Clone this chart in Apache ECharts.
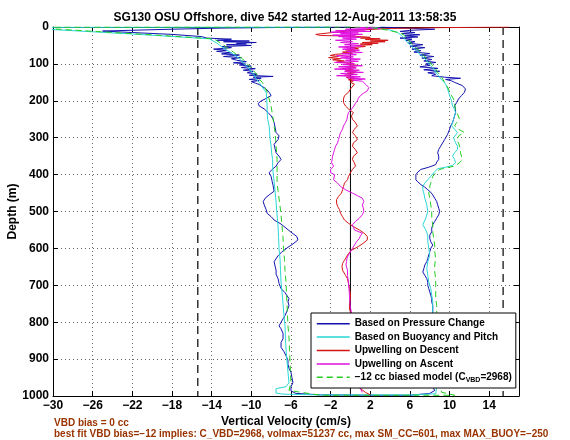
<!DOCTYPE html>
<html><head><meta charset="utf-8">
<script src="https://cdn.jsdelivr.net/npm/echarts@6/dist/echarts.min.js"></script>
<style>html,body{margin:0;padding:0;background:#fff}#c{width:570px;height:440px}</style>
</head><body><div id="c"></div>
<script>
// ---- data: [depth (m), vertical velocity (cm/s)] ----
const titleText = 'SG130 OSU Offshore, dive 542 started 12-Aug-2011 13:58:35';
const xName = 'Vertical Velocity (cm/s)';
const yName = 'Depth (m)';
const noteLines = ['VBD bias = 0 cc', 'best fit VBD bias=\u221212 implies: C_VBD=2968, volmax=51237 cc, max SM_CC=601, max MAX_BUOY=\u2212250'];
const seriesNames = ['Based on Pressure Change', 'Based on Buoyancy and Pitch', 'Upwelling on Descent', 'Upwelling on Ascent', '\u221212 cc biased model (C_VBD=2968)'];
const limitVel = [-15.4, 15.4];

const blueDescent = [[0,0],[1,-6],[3,-13],[6,-18],[11,-25],[15,-22],[20,-18],[26,-15],[30,-14.5],[33,-12],[36,-13.5],[38,-10.2],[40,-12.8],[42,-9.5],[44,-11.5],[46,-10.5],[48,-12.5],[50,-10],[53,-13],[56,-12],[60,-13.8],[63,-12.5],[66,-13.5],[70,-12],[73,-13],[76,-11.2],[80,-12.8],[83,-11],[86,-12],[90,-11.5],[94,-10.5],[97,-11.8],[100,-10.6],[103,-11.2],[106,-10],[110,-11],[113,-9.6],[117,-10.8],[120,-9.8],[124,-10.4],[128,-9.4],[131,-10.2],[134,-7.8],[136,-9.8],[139,-9.0],[142,-10.2],[145,-9.2],[148,-10.0],[152,-9.6],[156,-9.2],[159,-9.0],[168,-8.5],[177,-8.2],[186,-8.0],[195,-8.6],[200,-9.0],[207,-9.3],[214,-9.2],[222,-8.7],[232,-8.3],[241,-8.0],[250,-7.8],[259,-7.7],[272,-7.6],[286,-7.5],[295,-7.2],[305,-7.3],[318,-7.7],[330,-7.6],[341,-7.5],[350,-7.2],[359,-7.0],[368,-7.3],[377,-7.5],[386,-7.9],[395,-8.2],[405,-8.0],[418,-7.9],[430,-7.8],[445,-7.7],[455,-8.2],[464,-8.6],[473,-8.8],[482,-8.7],[495,-8.5],[505,-8.4],[514,-8.0],[523,-7.7],[534,-7.0],[545,-6.5],[556,-6.0],[568,-5.4],[577,-5.3],[586,-5.7],[597,-6.3],[609,-6.9],[620,-7.3],[636,-7.7],[648,-7.6],[659,-7.5],[670,-7.5],[682,-7.3],[695,-7.2],[709,-7.0],[720,-6.6],[736,-6.2],[745,-6.3],[755,-6.2],[770,-6.4],[782,-6.6],[791,-6.8],[800,-7.0],[810,-7.2],[818,-7.0],[830,-6.8],[845,-6.8],[855,-7.0],[868,-7.0],[880,-6.7],[891,-6.5],[903,-6.3],[914,-6.3],[925,-6.2],[936,-6.0],[950,-5.9],[964,-5.8],[975,-6.0],[986,-6.0],[993,-5.5],[997,-3],[998,3],[998,6]];
const blueAscent = [[0,3.0],[3,5.5],[6,8.5],[9,6.0],[12,5.0],[15,6.5],[18,5.2],[21,7.0],[24,5.5],[27,6.8],[30,5.0],[33,6.2],[36,5.6],[40,6.5],[44,5.8],[48,7.3],[52,6.0],[56,7.5],[60,6.2],[64,7.1],[68,6.4],[72,8.0],[76,7.0],[80,8.4],[84,7.2],[88,8.2],[92,7.4],[96,8.6],[100,7.6],[104,8.0],[108,7.0],[112,8.8],[116,7.4],[120,9.0],[124,7.8],[128,8.6],[132,8.2],[136,9.5],[139,11.1],[142,9.6],[146,10.2],[150,10.5],[159,11.3],[168,11.6],[177,11.5],[186,11.2],[195,10.9],[205,10.7],[214,10.5],[222,10.6],[232,10.6],[241,10.5],[250,10.4],[259,10.3],[268,10.1],[277,10.0],[291,9.8],[305,9.5],[314,9.3],[323,9.1],[332,8.9],[341,8.8],[350,8.9],[359,8.9],[366,8.7],[373,8.6],[380,7.9],[386,7.1],[393,6.8],[400,6.6],[407,6.6],[414,6.6],[420,6.8],[427,7.1],[434,7.5],[441,7.8],[448,8.1],[455,8.3],[464,8.5],[473,8.7],[482,8.8],[491,8.9],[500,9.0],[509,8.9],[518,8.7],[527,8.5],[536,8.3],[545,8.2],[555,8.2],[564,8.0],[573,8.0],[582,8.1],[591,8.3],[600,8.1],[609,8.0],[618,7.9],[627,7.8],[636,7.7],[645,7.5],[655,7.4],[664,7.3],[673,7.5],[682,7.7],[691,7.8],[700,7.8],[709,7.9],[718,8.0],[727,8.1],[736,8.2],[745,8.2],[755,8.3],[773,8.3],[790,8.2],[810,8.0],[830,7.8],[850,8.0],[870,8.2],[890,8.1],[910,8.3],[930,8.2],[950,8.0],[970,8.2],[985,8.5],[993,8.0]];

const cyanDescent = [[0,-2],[1,-31],[7,-30],[19,-22],[32,-14.2],[45,-13.4],[59,-12.7],[72,-11.9],[86,-11.2],[100,-10.7],[114,-10.2],[127,-9.8],[141,-9.5],[150,-9.2],[159,-9.0],[177,-8.5],[195,-8.45],[214,-8.4],[232,-8.4],[250,-8.35],[268,-8.2],[286,-8.15],[305,-8.1],[323,-8.0],[341,-7.95],[359,-7.85],[377,-7.85],[395,-7.8],[418,-7.7],[445,-7.6],[475,-7.5],[509,-7.4],[540,-7.3],[570,-7.25],[600,-7.2],[630,-7.1],[660,-7.05],[691,-7.0],[720,-6.9],[750,-6.8],[782,-6.7],[810,-6.6],[845,-6.55],[873,-6.5],[905,-6.4],[935,-6.3],[964,-6.2],[975,-6.5],[980,-7.5],[992,-7.5],[995,-6.8],[997,-3],[997,6],[994,8.6]];
const cyanAscent = [[0,2.0],[5,3.5],[10,4.2],[14,4.7],[20,5.0],[27,5.3],[34,5.5],[41,5.7],[50,6.1],[59,6.4],[68,6.8],[77,7.1],[86,7.5],[95,7.8],[105,8.1],[114,8.4],[123,8.6],[132,8.9],[141,9.1],[148,9.4],[155,9.6],[168,9.8],[177,9.9],[186,10.0],[200,10.2],[214,10.3],[223,10.5],[232,10.6],[241,10.5],[250,10.4],[259,10.3],[268,10.2],[277,10.5],[286,10.8],[293,10.6],[300,10.4],[307,10.5],[314,10.6],[323,10.8],[332,10.8],[341,10.5],[350,10.3],[359,10.5],[368,10.6],[375,10.3],[380,9.6],[384,8.8],[390,8.6],[395,8.4],[405,8.1],[414,7.8],[423,7.5],[432,7.3],[441,7.3],[450,7.4],[464,7.5],[482,7.7],[500,7.8],[518,7.6],[536,7.3],[550,7.6],[564,7.8],[582,7.8],[600,7.9],[618,8.0],[636,7.8],[655,7.7],[673,7.8],[691,7.9],[709,8.1],[727,8.2],[745,8.3],[773,8.3],[800,8.3],[830,8.4],[860,8.4],[890,8.5],[920,8.5],[950,8.6],[975,8.7],[990,8.8]];

const redDescent = [[0,16],[1,12],[2,8],[4,4],[8,1],[14,-1.5],[20,-3.5],[23,-3.0],[25,0.5],[28,2.0],[30,1.0],[32,3.0],[34,1.5],[36,3.8],[38,2.0],[40,3.5],[42,1.2],[44,2.8],[46,1.0],[48,2.2],[50,0.5],[53,1.5],[56,0.0],[59,0.8],[62,-0.5],[65,0.5],[68,-0.8],[71,0.2],[74,-1.5],[77,-2.0],[80,-1.2],[83,-2.2],[86,-1.0],[89,-1.8],[92,-0.6],[95,-1.4],[98,0.2],[101,-0.4],[104,0.8],[107,-0.2],[110,0.5],[113,-0.8],[116,0.3],[119,-0.5],[122,0.6],[125,-0.3],[128,0.4],[131,-0.6],[134,0.2],[137,-0.4],[140,0.5],[143,-0.2],[146,0.3],[150,0.0],[155,0.4],[159,0.2],[168,0.0],[177,-0.2],[186,-0.6],[195,-0.7],[205,-0.7],[214,-0.5],[222,-0.2],[232,0.3],[241,0.1],[250,0.2],[259,0.5],[268,0.7],[277,0.4],[286,0.2],[295,0.5],[305,0.7],[314,0.3],[323,0.2],[332,0.5],[341,0.7],[350,0.3],[359,0.2],[368,0.4],[377,0.5],[386,0.2],[395,0.0],[405,-0.2],[414,-0.3],[423,-0.6],[432,-0.7],[441,-0.8],[450,-0.9],[459,-1.2],[468,-1.4],[477,-1.4],[486,-1.3],[495,-1.1],[505,-1.0],[514,-0.8],[523,-0.6],[532,-0.2],[541,0.3],[550,0.9],[559,1.4],[568,1.7],[577,1.7],[586,1.3],[595,0.8],[605,0.1],[614,-0.2],[623,-0.4],[632,-0.6],[641,-0.8],[650,-0.85],[659,-0.8],[673,-0.5],[682,-0.3],[695,-0.2],[709,-0.1],[722,0.0],[736,0.0],[750,-0.1],[764,-0.1],[780,0.1],[800,0.2],[830,0.3],[860,0.1],[890,0.4],[920,0.5],[950,0.6],[975,0.8],[990,1.5],[997,2.0]];

const magentaAscent = [[0,2.5],[2,0.5],[4,3.0],[6,-0.5],[8,1.5],[10,-1.5],[12,2.0],[14,-2.0],[16,0.8],[18,-1.0],[20,1.2],[22,-1.8],[24,0.5],[26,-1.2],[28,1.0],[30,-0.8],[33,0.6],[36,-1.5],[39,0.2],[42,-1.0],[45,0.8],[48,-0.6],[51,1.1],[54,-1.2],[57,0.5],[60,-0.8],[63,0.9],[66,-0.4],[69,1.2],[72,-0.9],[75,0.6],[78,-1.4],[81,0.3],[84,-1.0],[87,1.0],[90,-0.5],[93,0.8],[96,-1.6],[99,0.4],[102,-0.8],[105,1.2],[108,-1.2],[111,0.6],[114,-1.6],[117,0.9],[120,-0.6],[123,1.3],[126,-1.0],[129,0.7],[132,-1.4],[135,1.0],[138,-0.3],[141,1.5],[144,0.2],[147,1.2],[150,1.35],[157,1.6],[164,1.85],[173,1.7],[180,1.3],[186,1.0],[193,0.8],[200,0.7],[207,0.5],[214,0.35],[223,0.1],[232,-0.2],[241,-0.3],[250,-0.35],[259,-0.5],[268,-0.7],[277,-0.8],[286,-1.0],[295,-1.1],[305,-1.2],[314,-1.3],[323,-1.5],[332,-1.6],[341,-1.7],[350,-1.8],[359,-1.85],[368,-1.9],[377,-1.7],[386,-2.0],[395,-2.0],[400,-1.6],[405,-1.8],[414,-1.7],[423,-1.3],[432,-1.0],[441,-0.5],[450,0.2],[457,0.7],[464,1.2],[473,1.35],[482,1.2],[491,1.3],[500,1.35],[509,1.2],[518,0.9],[527,0.5],[536,0.2],[543,0.3],[550,0.4],[559,1.2],[566,1.0],[573,0.9],[582,0.6],[591,0.4],[600,0.2],[609,0.0],[618,-0.2],[627,-0.35],[636,-0.4],[645,-0.45],[659,-0.3],[673,-0.3],[691,-0.2],[709,-0.15],[727,-0.1],[745,-0.05],[760,0.0],[790,0.2],[820,0.1],[850,0.3],[880,0.2],[910,0.4],[940,0.5],[970,0.8],[990,1.2]];

const greenDescent = [[0,1],[0.3,-31],[4,-31],[5,-30],[18,-22],[32,-13.8],[45,-13.0],[59,-12.3],[72,-11.6],[86,-10.9],[100,-10.4],[114,-9.9],[127,-9.5],[141,-9.2],[150,-8.9],[159,-8.7],[177,-8.4],[195,-8.2],[214,-8.0],[232,-7.9],[250,-7.8],[268,-7.7],[286,-7.6],[305,-7.55],[323,-7.5],[341,-7.45],[359,-7.4],[377,-7.4],[395,-7.4],[418,-7.4],[445,-7.3],[475,-7.15],[509,-7.0],[540,-6.9],[570,-6.8],[600,-6.75],[630,-6.65],[660,-6.6],[691,-6.5],[720,-6.45],[750,-6.4],[782,-6.35],[810,-6.3],[840,-6.2],[873,-6.15],[905,-6.1],[935,-6.05],[964,-6.0],[985,-6.2],[990,-6.0],[998,-3],[998,10.5],[990,9.2]];
const greenAscent = [[0,1.5],[5,3.0],[10,4.0],[15,4.8],[20,5.3],[30,5.7],[41,6.0],[50,6.4],[59,6.7],[68,7.1],[77,7.4],[86,7.7],[95,8.0],[105,8.3],[114,8.6],[123,8.8],[132,9.1],[141,9.3],[150,9.5],[159,9.7],[168,9.9],[177,10.0],[186,10.2],[195,10.4],[209,10.5],[223,10.6],[236,10.8],[250,11.0],[259,10.7],[268,10.5],[277,10.9],[286,11.5],[293,11.0],[300,10.8],[305,10.7],[314,10.9],[323,11.0],[332,11.1],[341,11.1],[350,11.2],[359,11.3],[368,11.0],[377,10.5],[382,9.6],[386,9.0],[395,8.6],[405,8.3],[414,8.2],[423,8.1],[432,8.0],[441,8.0],[450,7.9],[464,8.0],[482,8.1],[500,8.2],[518,8.2],[536,8.3],[555,8.3],[573,8.4],[591,8.5],[609,8.5],[627,8.6],[645,8.5],[664,8.5],[682,8.6],[700,8.6],[718,8.6],[736,8.6],[755,8.7],[773,8.7],[800,8.8],[850,8.9],[900,9.0],[950,9.0],[985,9.2]];

// ---- build ----
const toXY = arr => arr.map(p => [p[1], p[0]]);
const fullPath = (desc, asc) => toXY(desc).concat(toXY(asc.slice().reverse()));
const FONT = '"Liberation Sans", Arial, sans-serif';
const minus = v => String(v).replace('-', '\u2212');

const chart = echarts.init(document.getElementById('c'));
const lineS = (name, data, color, extra) => Object.assign({
  name, type: 'line', data, symbol: 'none', showSymbol: false, animation: false,
  lineStyle: { color, width: 1 }, itemStyle: { color }, z: 3
}, extra || {});

chart.setOption({
  animation: false,
  backgroundColor: '#fff',
  title: { text: titleText, left: 'center', top: 7,
    textStyle: { fontSize: 12, fontWeight: 'bold', fontFamily: FONT, color: '#000' } },
  grid: { left: 53, right: 51, top: 27, bottom: 44, containLabel: false, outerBoundsMode: 'none' },
  xAxis: [{
    type: 'value', min: -30, max: 17, interval: 4, position: 'bottom',
    name: xName, nameLocation: 'middle', nameGap: 20, nameMoveOverlap: false,
    nameTextStyle: { fontSize: 12, fontWeight: 'bold', fontFamily: FONT, color: '#000' },
    axisLine: { show: true, onZero: false, lineStyle: { color: '#000', width: 1 } },
    axisTick: { show: true, inside: true, length: 5, lineStyle: { color: '#000' } },
    axisLabel: { margin: 4, fontSize: 12, fontWeight: 'bold', fontFamily: FONT, color: '#000', showMaxLabel: false, formatter: minus },
    splitLine: { show: true, lineStyle: { type: [1, 3], color: '#666', width: 1 } }
  }, {
    type: 'value', min: -30, max: 17, interval: 4, position: 'top',
    axisLine: { show: true, onZero: false, lineStyle: { color: '#000', width: 1 } },
    axisTick: { show: true, inside: true, length: 5, lineStyle: { color: '#000' } },
    axisLabel: { show: false }, splitLine: { show: false }
  }],
  yAxis: [{
    type: 'value', min: 0, max: 1000, interval: 100, inverse: true, position: 'left',
    name: yName, nameLocation: 'middle', nameGap: 34, nameRotate: 90, nameMoveOverlap: false,
    nameTextStyle: { fontSize: 12, fontWeight: 'bold', fontFamily: FONT, color: '#000' },
    axisLine: { show: true, onZero: false, lineStyle: { color: '#000', width: 1 } },
    axisTick: { show: true, inside: true, length: 5, lineStyle: { color: '#000' } },
    axisLabel: { margin: 4, fontSize: 12, fontWeight: 'bold', fontFamily: FONT, color: '#000', formatter: v => String(v) },
    splitLine: { show: true, lineStyle: { type: [1, 3], color: '#666', width: 1 } }
  }, {
    type: 'value', min: 0, max: 1000, interval: 100, inverse: true, position: 'right',
    axisLine: { show: true, onZero: false, lineStyle: { color: '#000', width: 1 } },
    axisTick: { show: true, inside: true, length: 5, lineStyle: { color: '#000' } },
    axisLabel: { show: false }, splitLine: { show: false }
  }],
  legend: {
    orient: 'vertical', left: 311, top: 313, selectedMode: false,
    data: seriesNames, itemWidth: 33, itemHeight: 10, itemGap: 0,
    padding: [4, 4, 4, 5], borderColor: '#000', borderWidth: 1, backgroundColor: '#fff', z: 20,
    itemStyle: { opacity: 0 },
    lineStyle: { width: 1.5 },
    textStyle: { fontSize: 10, fontWeight: 'bold', fontFamily: FONT, color: '#000', lineHeight: 13.4,
      rich: { sub: { fontSize: 7, lineHeight: 7, verticalAlign: 'bottom', fontWeight: 'bold', fontFamily: FONT, color: '#000' } } },
    formatter: n => n === seriesNames[4] ? '\u221212 cc biased model (C{sub|VBD}=2968)' : n
  },
  graphic: [
    { type: 'text', left: 54, top: 418, style: { text: noteLines[0], fill: '#993300', font: 'bold 10px ' + FONT } },
    { type: 'text', left: 54, top: 429, style: { text: noteLines[1], fill: '#993300', font: 'bold 10px ' + FONT } }
  ],
  series: [
    lineS('zero', [[0, 0], [0, 1000]], '#000', { z: 2 }),
    lineS('limL', [[limitVel[0], 0], [limitVel[0], 1000]], '#333', { z: 2, lineStyle: { color: '#333', width: 1.5, type: [8, 5] } }),
    lineS('limR', [[limitVel[1], 0], [limitVel[1], 1000]], '#333', { z: 2, lineStyle: { color: '#333', width: 1.5, type: [8, 5] } }),
    lineS(seriesNames[0], fullPath(blueDescent, blueAscent), '#1212b0'),
    lineS(seriesNames[1], fullPath(cyanDescent, cyanAscent), '#2ad6d6'),
    lineS(seriesNames[2], toXY(redDescent), '#d41515'),
    lineS(seriesNames[3], toXY(magentaAscent), '#e010e0'),
    lineS(seriesNames[4], fullPath(greenDescent, greenAscent), '#22cc22', { lineStyle: { color: '#22cc22', width: 1, type: [6, 4] } })
  ]
});
</script></body></html>
